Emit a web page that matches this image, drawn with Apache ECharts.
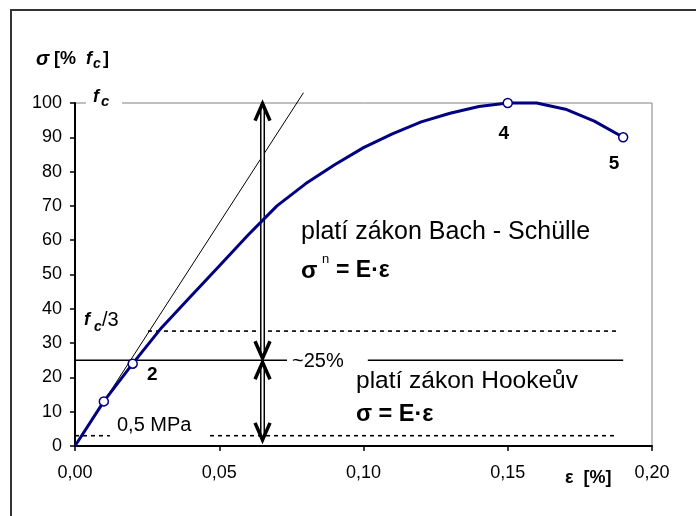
<!DOCTYPE html>
<html>
<head>
<meta charset="utf-8">
<script src="https://cdn.jsdelivr.net/npm/echarts@6/dist/echarts.min.js"></script>
<style>
  html, body { margin: 0; padding: 0; background: #fff; }
  #chart { width: 696px; height: 516px; }
</style>
</head>
<body>
<div id="chart"></div>
<script>
// stress-strain curve of concrete (sigma in % of fc, epsilon in %)
const strain = [0, 0.01, 0.02, 0.03, 0.04, 0.05, 0.06, 0.07, 0.08, 0.09, 0.10,
  0.11, 0.12, 0.13, 0.14, 0.15, 0.16, 0.17, 0.18, 0.19];
const stress = [0, 13, 24, 34.5, 43.5, 52.5, 61.5, 70, 76.5, 82, 87,
  91, 94.5, 97, 99, 100, 100, 98.2, 94.7, 90];

// marked points
const pointStrain = [0.01, 0.02, 0.15, 0.19];
const pointStress = [13, 24, 100, 90];
const pointNames = ['', '2', '4', '5'];

// tangent at origin
const tangentStrain = [0, 0.0792];
const tangentStress = [0, 103];

// reference levels
const hookeLevel = 25;
const hookeParts = [[0, 0.0735], [0.1015, 0.19]];
const fc3Level = 33.5;
const fc3Parts = [[0.0253, 0.188]];
const mpaLevel = 3;
const mpaParts = [[0, 0.0121], [0.0468, 0.1877]];

// double arrows: [strain, from, to]
const arrows = [[0.065, 100.4, 25], [0.065, 25, 1.2]];

const xMin = 0, xMax = 0.2, xStep = 0.05;
const yMin = 0, yMax = 100, yStep = 10;

const FONT = '"Liberation Sans", Arial, sans-serif';

function levelSeries(level, parts, dashed) {
  return parts.map(p => ({
    type: 'line',
    data: [[p[0], level], [p[1], level]],
    symbol: 'none',
    silent: true,
    z: 3,
    lineStyle: { color: '#000', width: dashed ? 1.6 : 1.5, type: dashed ? [4, 4] : 'solid' }
  }));
}

// text piece; weight is a css font prefix (style/weight)
function txt(x, y, text, size, weight) {
  return {
    type: 'text', x: x, y: y, z: 100,
    style: {
      text: text, font: (weight || '') + ' ' + size + 'px ' + FONT, fill: '#000',
      verticalAlign: 'middle', align: 'left'
    }
  };
}
function box(x, y, w, h) {
  return { type: 'rect', z: 90, shape: { x: x, y: y, width: w, height: h }, style: { fill: '#fff' } };
}

const chart = echarts.init(document.getElementById('chart'));

const option = {
  animation: false,
  backgroundColor: '#fff',
  grid: {
    left: 75, right: 44, top: 103, bottom: 70,
    show: true, borderColor: '#808080', borderWidth: 1
  },
  xAxis: {
    type: 'value', min: xMin, max: xMax, interval: xStep,
    axisLine: { lineStyle: { color: '#000', width: 2 } },
    axisTick: { show: true, length: 5, lineStyle: { color: '#000', width: 1.5 } },
    axisLabel: {
      color: '#000', fontSize: 18, fontFamily: FONT, margin: 18,
      formatter: v => v.toFixed(2).replace('.', ',')
    },
    splitLine: { show: false }
  },
  yAxis: {
    type: 'value', min: yMin, max: yMax, interval: yStep,
    axisLine: { show: true, lineStyle: { color: '#000', width: 2 } },
    axisTick: { show: true, length: 5, lineStyle: { color: '#000', width: 1.5 } },
    axisLabel: { color: '#000', fontSize: 18, fontFamily: FONT, margin: 13 },
    splitLine: { show: false }
  },
  series: [
    {
      type: 'line',
      data: tangentStrain.map((x, i) => [x, tangentStress[i]]),
      symbol: 'none', silent: true, clip: false, z: 2,
      lineStyle: { color: '#000', width: 1 }
    },
    ...levelSeries(hookeLevel, hookeParts, false),
    ...levelSeries(fc3Level, fc3Parts, true),
    ...levelSeries(mpaLevel, mpaParts, true),
    {
      type: 'custom',
      clip: false, silent: true, z: 4,
      encode: { x: 0, y: [1, 2] },
      data: arrows,
      renderItem: function (params, api) {
        const x = api.value(0);
        const p1 = api.coord([x, api.value(1)]);
        const p2 = api.coord([x, api.value(2)]);
        const d = p2[1] > p1[1] ? 1 : -1;
        const head = (tip, s) => ({
          type: 'polyline',
          shape: { points: [[tip[0] - 7.5, tip[1] - s * 19], [tip[0], tip[1] - s * 2], [tip[0] + 7.5, tip[1] - s * 19]] },
          style: { stroke: '#000', lineWidth: 3.5, fill: null, lineJoin: 'miter' }
        });
        const shaft = { x1: p1[0], y1: p1[1] + d * 3, x2: p2[0], y2: p2[1] - d * 3 };
        return {
          type: 'group',
          children: [
            { type: 'line', shape: shaft, style: { stroke: '#000', lineWidth: 5 } },
            { type: 'line', shape: shaft, style: { stroke: '#fff', lineWidth: 2 } },
            head(p1, -d),
            head(p2, d)
          ]
        };
      }
    },
    {
      type: 'line',
      data: strain.map((x, i) => [x, stress[i]]),
      symbol: 'none', clip: false, z: 5,
      lineStyle: { color: '#000080', width: 3 }
    },
    {
      type: 'scatter',
      data: pointStrain.map((x, i) => ({
        value: [x, pointStress[i]],
        label: {
          show: pointNames[i] !== '',
          offset: [[0, 0], [19.5, 11.5], [-4, 31], [-9, 26.5]][i]
        }
      })),
      symbol: 'circle', symbolSize: 9, clip: false, z: 6,
      itemStyle: { color: '#fff', borderColor: '#000080', borderWidth: 1.5, opacity: 1 },
      label: {
        position: 'inside', formatter: p => pointNames[p.dataIndex],
        color: '#000', fontWeight: 'bold', fontSize: 19, fontFamily: FONT
      }
    }
  ],
  graphic: [
    // outer frame
    { type: 'rect', z: 100, shape: { x: 11, y: 10, width: 720, height: 540 }, style: { fill: null, stroke: '#333', lineWidth: 2 } },
    // axis title
    txt(36, 59, 'σ', 20, 'italic bold'),
    txt(54, 59, '[%', 18, 'bold'),
    txt(86, 59, 'f', 18, 'italic bold'),
    txt(93, 64, 'c', 14, 'italic bold'),
    txt(103, 59, ']', 18, 'bold'),
    // fc at top
    box(86, 93, 36, 18),
    txt(93, 97, 'f', 18, 'italic bold'),
    txt(101, 102, 'c', 15, 'italic bold'),
    // fc/3
    box(76, 298, 70, 34),
    txt(84, 320, 'f', 18, 'italic bold'),
    txt(94, 327, 'c', 14, 'italic bold'),
    txt(102, 320, '/3', 20),
    // 0,5 MPa
    txt(117, 425, '0,5 MPa', 20),
    // ~25%
    txt(292, 361, '~25%', 20),
    // Bach - Schülle
    txt(301, 232, 'platí zákon Bach - Schülle', 25),
    txt(301, 271, 'σ', 24, 'bold'),
    txt(322, 259, 'n', 13),
    txt(336, 271, '= E·ε', 23, 'bold'),
    // Hooke
    txt(356, 381, 'platí zákon Hookeův', 24.5),
    txt(356, 415, 'σ = E·ε', 23.5, 'bold'),
    // x axis title
    txt(565, 478, 'ε  [%]', 18, 'bold')
  ]
};

chart.setOption(option);
</script>
</body>
</html>
